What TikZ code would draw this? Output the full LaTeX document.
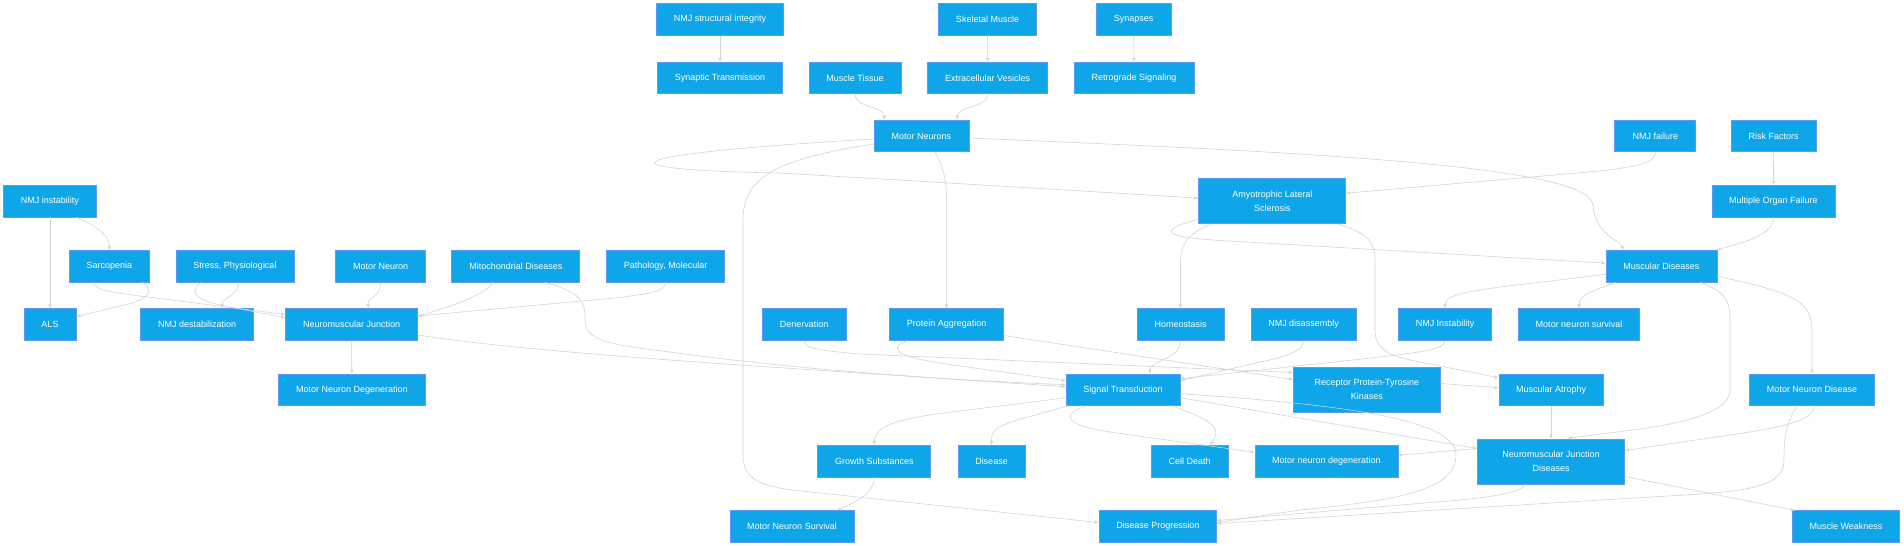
\documentclass[tikz,border=0pt]{standalone}
\usepackage{fontspec}
\setmainfont{Liberation Sans}
\usetikzlibrary{arrows.meta}
\definecolor{boxfill}{RGB}{14,165,233}
\definecolor{boxline}{RGB}{96,152,245}
\definecolor{edgecol}{RGB}{212,212,212}
\tikzset{
  box/.style={draw=boxline, line width=0.7pt, fill=boxfill, text=white,
    font=\fontsize{9}{13.7}\selectfont, minimum height=31.6pt, inner sep=0pt, align=center},
  tall/.style={minimum height=45pt},
  e/.style={draw=edgecol, line width=0.6pt, -{Latex[length=4pt,width=3.6pt]}}
}
\begin{document}
\begin{tikzpicture}[x=1pt,y=-1pt]
\path[fill=white] (0,0) rectangle (1904,546);
\useasboundingbox (0,0) rectangle (1904,546);
% nodes
\node[box, minimum width=127pt] (nsi) at (720,19.5) {NMJ structural integrity};
\node[box, minimum width=125pt] (syt) at (720,78) {Synaptic Transmission};
\node[box, minimum width=92pt] (mt) at (855,78) {Muscle Tissue};
\node[box, minimum width=120pt] (ev) at (987.7,78) {Extracellular Vesicles};
\node[box, minimum width=98pt] (sm) at (987.5,19.5) {Skeletal Muscle};
\node[box, minimum width=75pt] (syn) at (1133.7,19.5) {Synapses};
\node[box, minimum width=120pt] (rs) at (1134,78) {Retrograde Signaling};
\node[box, minimum width=95pt] (mns) at (921.4,136) {Motor Neurons};
\node[box, minimum width=81pt] (nf) at (1655.3,136) {NMJ failure};
\node[box, minimum width=85pt] (rf) at (1773.6,136) {Risk Factors};
\node[box, tall, minimum width=147pt] (als) at (1272.3,201.2) {Amyotrophic Lateral\\Sclerosis};
\node[box, minimum width=123pt] (mof) at (1773.4,201.2) {Multiple Organ Failure};
\node[box, minimum width=111pt] (md) at (1661.4,266.2) {Muscular Diseases};
\node[box, minimum width=93pt] (nmjI) at (1445,324.5) {NMJ Instability};
\node[box, minimum width=121pt] (mnsurv) at (1579,324.5) {Motor neuron survival};
\node[box, minimum width=105pt] (nd) at (1303.5,324.5) {NMJ disassembly};
\node[box, tall, minimum width=147pt] (rptk) at (1366.8,389.5) {Receptor Protein-Tyrosine\\Kinases};
\node[box, minimum width=104pt] (ma) at (1551,389.7) {Muscular Atrophy};
\node[box, minimum width=125pt] (mndis) at (1812,389.7) {Motor Neuron Disease};
\node[box, minimum width=118pt] (pm) at (665.6,266.2) {Pathology, Molecular};
\node[box, minimum width=83.5pt] (den) at (804.2,324.5) {Denervation};
\node[box, minimum width=114pt] (pa) at (946.6,324.5) {Protein Aggregation};
\node[box, minimum width=87pt] (hom) at (1180.5,324.5) {Homeostasis};
\node[box, minimum width=114pt] (sig) at (1123,389.7) {Signal Transduction};
\node[box, minimum width=93pt] (nmji) at (50,201.2) {NMJ instability};
\node[box, minimum width=80.4pt] (sar) at (109.4,266.2) {Sarcopenia};
\node[box, minimum width=118pt] (stress) at (235,266.2) {Stress, Physiological};
\node[box, minimum width=90pt] (mn) at (380.6,266.2) {Motor Neuron};
\node[box, minimum width=128pt] (mito) at (515.8,266.2) {Mitochondrial Diseases};
\node[box, minimum width=52pt] (alss) at (50,324.5) {ALS};
\node[box, minimum width=113pt] (nmjd) at (197.1,324.5) {NMJ destabilization};
\node[box, minimum width=132pt] (nj) at (351.6,324.5) {Neuromuscular Junction};
\node[box, minimum width=146.4pt] (mndeg) at (351.8,389.7) {Motor Neuron Degeneration};
\node[box, minimum width=113pt] (gs) at (874.3,461.3) {Growth Substances};
\node[box, minimum width=67pt] (dis) at (991.5,461.3) {Disease};
\node[box, minimum width=77pt] (cd) at (1189.7,461.3) {Cell Death};
\node[box, minimum width=124pt] (mnsv) at (792,526.5) {Motor Neuron Survival};
\node[box, minimum width=117.5pt] (dp) at (1157.8,526.5) {Disease Progression};
\node[box, minimum width=143pt] (mndg) at (1326.4,461.3) {Motor neuron degeneration};
\node[box, tall, minimum width=147pt] (njd) at (1551,461.5) {Neuromuscular Junction\\Diseases};
\node[box, minimum width=107pt] (mw) at (1846,526.5) {Muscle Weakness};
% edges
\draw[e] (nsi.south) -- (syt.north);
\draw[e] (sm.south) -- (ev.north);
\draw[e] (syn.south) -- (rs.north);
\draw[e] (mt.south) .. controls (855,108) and (884,106) .. ([xshift=-37pt]mns.north);
\draw[e] (ev.south) .. controls (987.7,108) and (957,106) .. ([xshift=36pt]mns.north);
\draw[e] ([yshift=-3pt]mns.west) .. controls (600,155) and (600,170) .. (780,173) .. controls (950,183) and (1100,192) .. ([yshift=3pt]als.west);
\draw[e] ([yshift=-8pt]mns.west) .. controls (770,160) and (743,180) .. (743,220) -- (743,455) .. controls (743,485) and (770,488) .. (820,493) -- ([yshift=4pt]dp.west);
\draw[e] ([xshift=14pt]mns.south) .. controls (944,170) and (946.6,180) .. (946.6,200) -- (pa.north);
\draw[e] ([yshift=-2pt]mns.east) .. controls (1300,152) and (1590,165) .. (1593,205) .. controls (1595,235) and (1620,240) .. ([xshift=-38pt]md.north);
\draw[e] (nf.south) .. controls (1655.3,163) and (1640,166) .. (1600,171) -- ([yshift=8pt]als.east);
\draw[e] (rf.south) -- (mof.north);
\draw[e] (mof.south) .. controls (1773.4,235) and (1745,242) .. ([xshift=55pt]md.north);
\draw[e] ([yshift=-18pt]als.west) .. controls (1150,232) and (1170,238) .. (1230,241) -- ([yshift=3pt]md.west);
\draw[e] ([xshift=-61pt]als.south) .. controls (1185,235) and (1180.5,245) .. (1180.5,265) -- (hom.north);
\draw[e] ([xshift=65pt]als.south) .. controls (1365,232) and (1375,240) .. (1375,260) -- (1375,330) .. controls (1375,350) and (1390,355) .. (1410,360) -- ([yshift=12pt]ma.west);
\draw[e] ([yshift=-8pt]md.west) .. controls (1500,288) and (1445,290) .. (nmjI.north);
\draw[e] ([xshift=-46pt]md.south) .. controls (1590,292) and (1579,295) .. (mnsurv.north);
\draw[e] ([yshift=-10pt]md.east) .. controls (1790,292) and (1812,300) .. (1812,330) -- (mndis.north);
\draw[e] ([xshift=39pt]md.south) .. controls (1725,292) and (1730,300) .. (1730,320) -- (1730,390) .. controls (1730,425) and (1620,430) .. ([xshift=17pt]njd.north);
\draw[e] (nmjI.south) .. controls (1445,350) and (1420,352) .. (1380,357) -- ([yshift=11pt]sig.east);
\draw[e] (nd.south) .. controls (1303.5,350) and (1290,356) .. (1260,362) -- ([yshift=9pt]sig.east);
\draw[e] (hom.south) .. controls (1180.5,360) and (1150,360) .. ([xshift=27pt]sig.north);
\draw[e] (den.south) .. controls (804.2,348) and (815,350) .. (860,354) -- ([yshift=17pt]rptk.west);
\draw[e] ([xshift=-40pt]pa.south) .. controls (885,350) and (900,358) .. (960,366) -- ([yshift=9pt]sig.west);
\draw[e] ([yshift=-11pt]pa.east) -- ([yshift=10pt]rptk.west);
\draw[e] ([xshift=-22pt]mito.south) .. controls (480,298) and (450,306) .. ([yshift=8pt]nj.east);
\draw[e] ([xshift=29pt]mito.south) .. controls (580,292) and (585,300) .. (585,320) .. controls (585,345) and (620,345) .. (700,356) .. controls (850,375) and (1000,382) .. ([yshift=5pt]sig.west);
\draw[e] ([yshift=-10.5pt]nj.east) .. controls (480,345) and (600,356) .. (800,369) -- ([yshift=3pt]sig.west);
\draw[e] ([xshift=33pt]sar.south) .. controls (155,290) and (150,300) .. (120,306) -- ([yshift=8pt]alss.east);
\draw[e] ([xshift=-16pt]sar.south) .. controls (95,290) and (110,292) .. (140,296) -- ([yshift=10pt]nj.west);
\draw[e] (nmji.south) -- (alss.north);
\draw[e] ([xshift=26pt]nmji.south) .. controls (95,225) and (109.4,235) .. (sar.north);
\draw[e] ([xshift=4pt]stress.south) .. controls (239,295) and (222,298) .. ([xshift=25pt]nmjd.north);
\draw[e] ([xshift=-34pt]stress.south) .. controls (185,295) and (200,302) .. (240,309) -- ([yshift=7pt]nj.west);
\draw[e] (mn.south) .. controls (380.6,298) and (368,296) .. ([xshift=16.5pt]nj.north);
\draw[e] (pm.south) .. controls (665.6,292) and (650,293) .. (620,297.5) -- ([yshift=8.5pt]nj.east);
\draw[e] (nj.south) -- (mndeg.north);
\draw[e] ([yshift=-8pt]sig.west) .. controls (940,415) and (874.3,415) .. (gs.north);
\draw[e] ([xshift=-55pt]sig.south) .. controls (1000,425) and (991.5,425) .. (dis.north);
\draw[e] ([xshift=48pt]sig.south) .. controls (1215,420) and (1222,430) .. ([xshift=20pt]cd.north);
\draw[e] ([xshift=-37pt]sig.south) .. controls (1060,415) and (1065,425) .. (1110,432) -- ([yshift=9pt]mndg.west);
\draw[e] ([yshift=-8pt]sig.east) -- ([yshift=13pt]njd.west);
\draw[e] ([yshift=-4pt]sig.east) .. controls (1350,405) and (1456,420) .. (1456,455) .. controls (1456,490) and (1400,500) .. (1300,510) -- ([yshift=4pt]dp.east);
\draw[e] ([yshift=6pt]rptk.east) -- ([yshift=2pt]ma.west);
\draw[e] (ma.south) -- (njd.north);
\draw[e] ([xshift=3pt]mndis.south) .. controls (1812,420) and (1790,425) .. (1750,432) -- ([yshift=11pt]njd.east);
\draw[e] ([xshift=-15pt]mndis.south) .. controls (1785,425) and (1784,440) .. (1784,460) .. controls (1784,490) and (1740,492) .. (1650,497) -- ([yshift=3pt]dp.east);
\draw[e] ([yshift=13pt]njd.west) -- ([yshift=6pt]mndg.east);
\draw[e] ([xshift=-25pt]njd.south) .. controls (1520,492) and (1500,496) .. (1460,500) -- ([yshift=6pt]dp.east);
\draw[e] ([yshift=-15pt]njd.east) -- ([xshift=-51pt]mw.north);
\draw[e] (gs.south) .. controls (874.3,492) and (860,500) .. ([xshift=45pt]mnsv.north);
\end{tikzpicture}
\end{document}
